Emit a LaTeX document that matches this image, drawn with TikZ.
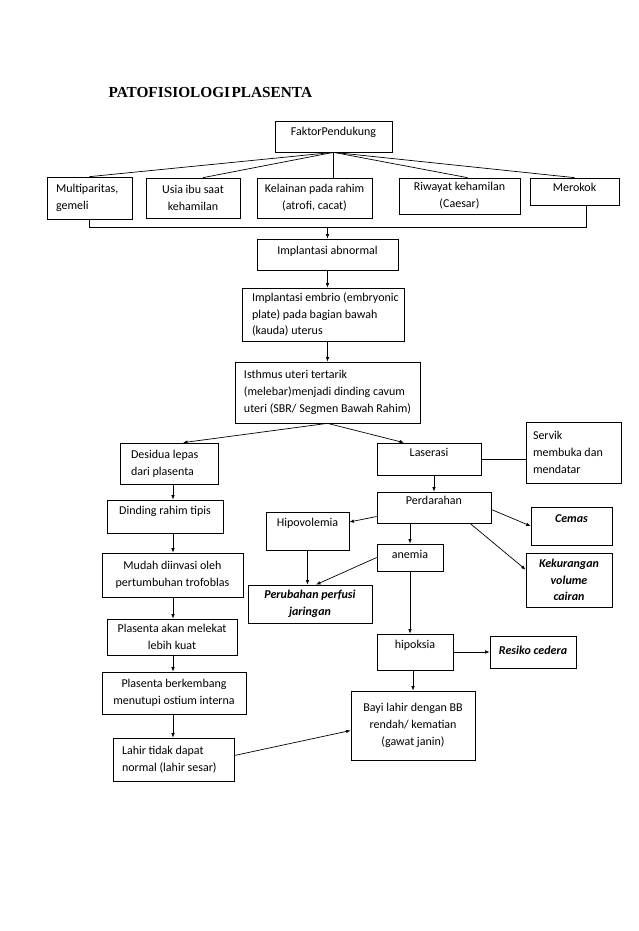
\documentclass[tikz,border=0pt]{standalone}
\usepackage{fontspec}
\setmainfont{Carlito}
\newfontfamily\titlefont{Liberation Serif}
\usetikzlibrary{arrows.meta,calc}
\newcommand\lbx[2]{\makebox[#1][l]{#2}}
\tikzset{
  box/.style={draw, line width=0.7pt, inner sep=0pt, font=\fontsize{12}{16.7}\selectfont},
  one/.style={text height=8pt, text depth=2.6pt},
  up/.style={text height=8pt, text depth={2.6pt+2*#1}},
  bi/.style={font=\fontsize{12}{16.7}\selectfont\bfseries\itshape},
  ln/.style={draw, line width=0.7pt},
  arr/.style={draw, line width=0.7pt, -{Latex[length=4.5pt,width=3.5pt]}}
}
\begin{document}
\begin{tikzpicture}[x=1pt,y=-1pt]
\path[use as bounding box] (0,0) rectangle (638,931);

\node[anchor=base west, font=\titlefont\fontsize{15.3}{18}\selectfont\bfseries] (title) at (105,98) {PATOFISIOLOGI\hspace{1.5pt}PLASENTA};

% top row
\node[box, up=4pt, minimum width=117, minimum height=31] (faktor) at (333.5,136.5) {FaktorPendukung};
\node[box, align=left, minimum width=85, minimum height=42] (multi) at (89.5,198) {\lbx{67pt}{Multiparitas,}\\gemeli};
\node[box, align=center, minimum width=94, minimum height=40] (usia) at (193,198) {Usia ibu saat\\kehamilan};
\node[box, align=center, minimum width=115, minimum height=40] (kelainan) at (314.5,198) {Kelainan pada rahim\\(atrofi, cacat)};
\node[box, align=center, minimum width=121, minimum height=36] (riwayat) at (459.5,196) {Riwayat kehamilan\\(Caesar)};
\node[box, up=3pt, minimum width=89, minimum height=27] (merokok) at (574.5,191.5) {Merokok};

% central column
\node[box, up=3pt, minimum width=141, minimum height=31] (impab) at (327.5,254.5) {Implantasi abnormal};
\node[box, align=left, minimum width=162, minimum height=53] (embrio) at (323,314.5) {\lbx{142pt}{Implantasi embrio (embryonic}\\plate) pada bagian bawah\\(kauda) uterus};
\node[box, align=left, minimum width=185, minimum height=61] (isthmus) at (327.5,392.5) {\lbx{165pt}{Isthmus uteri tertarik}\\(melebar)menjadi dinding cavum\\uteri (SBR/ Segmen Bawah Rahim)};

% left column
\node[box, align=left, minimum width=98, minimum height=41] (desidua) at (169,463.5) {\lbx{76pt}{Desidua lepas}\\dari plasenta};
\node[box, up=5pt, minimum width=116, minimum height=33] (dinding) at (165,516.5) {Dinding rahim tipis};
\node[box, align=center, minimum width=141, minimum height=44] (mudah) at (172.5,575) {Mudah diinvasi oleh\\pertumbuhan trofoblas};
\node[box, align=center, minimum width=130, minimum height=36] (plas1) at (172,637) {Plasenta akan melekat\\lebih kuat};
\node[box, align=center, minimum width=144, minimum height=42] (plas2) at (174,693) {Plasenta berkembang\\menutupi ostium interna};
\node[box, align=left, minimum width=121, minimum height=43] (lahir) at (173.5,759.5) {\lbx{103pt}{Lahir tidak dapat}\\normal (lahir sesar)};

% right part
\node[box, up=5pt, minimum width=104, minimum height=32] (laserasi) at (429,459) {Laserasi};
\node[box, align=left, minimum width=95, minimum height=61] (servik) at (573.5,452.5) {\lbx{81pt}{Servik}\\membuka dan\\mendatar};
\node[box, up=6pt, minimum width=114, minimum height=31] (perdarahan) at (434,507.5) {Perdarahan};
\node[box, up=7pt, minimum width=83, minimum height=38] (hipo) at (307.5,531) {Hipovolemia};
\node[box, bi, up=6pt, minimum width=81, minimum height=38] (cemas) at (571.5,526) {Cemas};
\node[box, up=2pt, minimum width=66, minimum height=27] (anemia) at (410,557.5) {anemia};
\node[box, bi, align=center, minimum width=86, minimum height=54] (kek) at (569,580) {Kekurangan\\volume\\cairan};
\node[box, bi, align=center, minimum width=124, minimum height=38] (perubahan) at (310,604) {Perubahan perfusi\\jaringan};
\node[box, up=6pt, minimum width=76, minimum height=36] (hipoksia) at (415,652) {hipoksia};
\node[box, bi, one, minimum width=86, minimum height=32] (resiko) at (533,652) {Resiko cedera};
\node[box, align=center, minimum width=124, minimum height=69] (bayi) at (413,725.5) {Bayi lahir dengan BB\\rendah/ kematian\\(gawat janin)};

% connectors: fan
\draw[ln] (faktor.south) -- (multi.north);
\draw[ln] (faktor.south) -- ($(usia.north)+(10,0)$);
\draw[ln] (faktor.south) -- (faktor.south |- kelainan.north);
\draw[ln] (faktor.south) -- ($(riwayat.north)+(8,0)$);
\draw[ln] (faktor.south) -- (merokok.north);

% bracket
\coordinate (brR) at (586,227);
\draw[ln] (multi.south) |- (brR) -- (brR |- merokok.south);
\draw[arr] (impab.north |- brR) -- (impab.north);

% central
\draw[arr] (impab.south) -- (impab.south |- embrio.north);
\draw[arr] (isthmus.north |- embrio.south) -- (isthmus.north);
\draw[arr] (isthmus.south) -- ($(desidua.north)+(14,0)$);
\draw[arr] (isthmus.south) -- ($(laserasi.north)+(-25,0)$);

% left column
\coordinate (col) at (173,0);
\draw[arr] (desidua.south -| col) -- (dinding.north -| col);
\draw[arr] (dinding.south -| col) -- (mudah.north -| col);
\draw[arr] (mudah.south -| col) -- (plas1.north -| col);
\draw[arr] (plas1.south -| col) -- (plas2.north -| col);
\draw[arr] (plas2.south -| col) -- (lahir.north -| col);
\draw[arr] ($(lahir.east)+(0,-4)$) -- ($(bayi.west)+(0,5)$);

% right part
\draw[ln] (laserasi.east) -- (laserasi.east -| servik.west);
\draw[arr] (perdarahan.north |- laserasi.south) -- (perdarahan.north);
\draw[arr] ($(perdarahan.west)+(0,9)$) -- ($(hipo.east)+(0,-9)$);
\draw[arr] ($(perdarahan.east)+(0,2)$) -- (cemas.west);
\draw[arr] ($(perdarahan.south)+(36,0)$) -- ($(kek.north west)+(0,17)$);
\draw[arr] (anemia.north |- perdarahan.south) -- (anemia.north);
\draw[arr] (hipo.south) -- (hipo.south |- perubahan.north);
\draw[arr] (anemia.west) -- ($(perubahan.north)+(6,0)$);
\draw[arr] (anemia.south) -- (anemia.south |- hipoksia.north);
\draw[arr] (hipoksia.east) -- (hipoksia.east -| resiko.west);
\draw[arr] (bayi.north |- hipoksia.south) -- (bayi.north);
\end{tikzpicture}
\end{document}
